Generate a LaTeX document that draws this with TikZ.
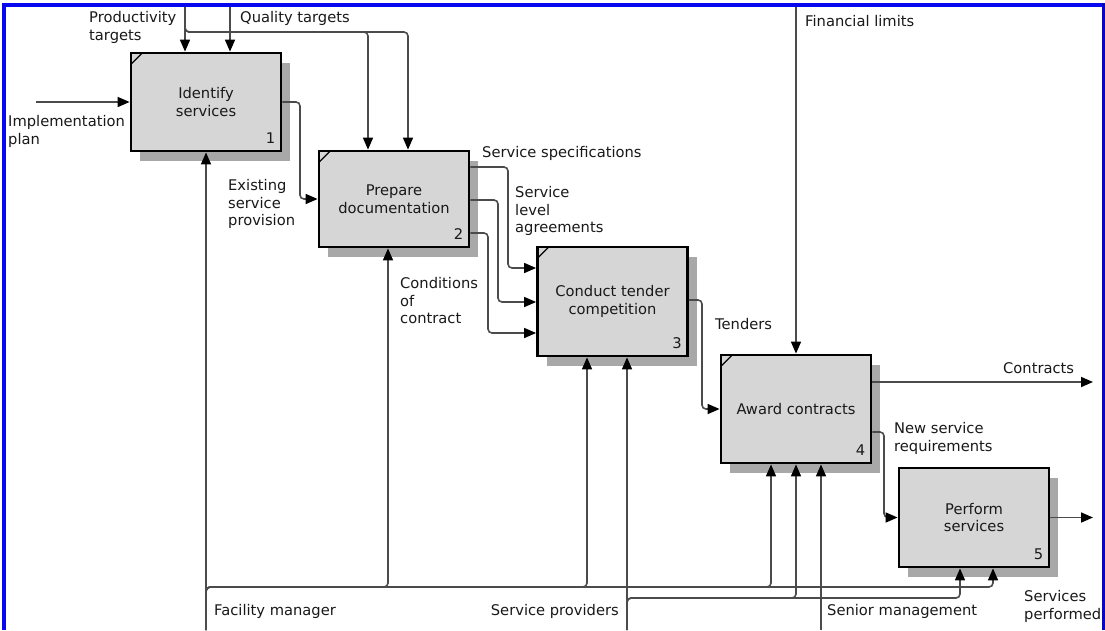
\documentclass[tikz,border=0pt]{standalone}
\usepackage{fontspec}
\setmainfont{DejaVu Sans}
\usetikzlibrary{arrows.meta,calc,shadows}

\definecolor{framebl}{RGB}{8,8,240}
\definecolor{boxfill}{RGB}{214,214,214}
\definecolor{shadowc}{RGB}{168,168,168}
\definecolor{wire}{RGB}{75,75,75}
\definecolor{ink}{RGB}{25,25,25}

\begin{document}
\begin{tikzpicture}[x=1pt,y=-1pt,
  font=\fontsize{14.7}{17.8}\selectfont,
  act/.style={draw=black, line width=2.8pt, fill=boxfill, minimum width=150pt,
    inner sep=0pt, align=center, text=ink,
    drop shadow={shadow xshift=9pt, shadow yshift=-10pt, fill=shadowc, opacity=1}},
  num/.style={anchor=base east, inner sep=0pt, text=ink},
  corner/.style={draw=black, line width=1.3pt},
  flow/.style={draw=wire, line width=1.6pt, rounded corners=4pt,
    -{Triangle[length=12pt,width=10pt,color=black]}},
  lbl/.style={anchor=north west, inner sep=0pt, align=left, text=ink},
  lblr/.style={anchor=north east, inner sep=0pt, align=right, text=ink}
]
% canvas and frame
\fill[white] (0,0) rectangle (1105,630);
\useasboundingbox (0,0) rectangle (1105,630);
\fill[framebl] (2,3) rectangle (6,630);
\fill[framebl] (2,3) rectangle (1104.5,7);
\fill[framebl!80!black] (1102,3) rectangle (1104.5,630);

% activity boxes
\node[act, minimum height=98pt]  (b1) at (206,102)   {Identify\\services};
\node[act, minimum height=96pt]  (b2) at (394,199)   {Prepare\\documentation};
\node[act, minimum height=109pt] (b3) at (612.5,301.5) {Conduct tender\\competition};
\node[act, minimum height=108pt] (b4) at (796,409)   {Award contracts};
\node[act, minimum height=99pt]  (b5) at (974,517.5) {Perform\\services};

\node[num] at ($(b1.south east)+(-7,-9)$) {1};
\node[num] at ($(b2.south east)+(-7,-9)$) {2};
\node[num] at ($(b3.south east)+(-7,-9)$) {3};
\node[num] at ($(b4.south east)+(-7,-9)$) {4};
\node[num] at ($(b5.south east)+(-7,-9)$) {5};

\foreach \b in {b1,b2,b3,b4}
  \draw[corner] ($(\b.north west)+(2,12)$) -- ($(\b.north west)+(12,2)$);

% free ends of the external arrows
\coordinate (ip)  at (36,102);
\coordinate (pt)  at (185,7);
\coordinate (qt)  at (230,7);
\coordinate (fl)  at (796,7);
\coordinate (ct)  at (1093,382);
\coordinate (spf) at (1093,517.5);
\coordinate (fm)  at (206,630);
\coordinate (spv) at (627,630);
\coordinate (sm)  at (821,630);

% inputs and controls
\draw[flow] (ip) -- (b1.west);
\draw[flow] (pt) -- (pt |- b1.north);
\draw[flow] (qt) -- (qt |- b1.north);
\draw[flow] (pt) |- (368,32) -- (368,0 |- b2.north);
\draw[flow] (pt) |- (408,32) -- (408,0 |- b2.north);
\draw[flow] (fl) -- (b4.north);

% flows between activities
\draw[flow] (b1.east) -- (300,102) -- (300,199) -- (b2.west);
\draw[flow] (b2.east |- 0,167) -- (508,167) -- (508,268) -- (b3.west |- 0,268);
\draw[flow] (b2.east |- 0,200) -- (498,200) -- (498,302) -- (b3.west |- 0,302);
\draw[flow] (b2.east |- 0,233) -- (488,233) -- (488,333) -- (b3.west |- 0,333);
\draw[flow] (b3.east |- 0,300) -- (702,300) -- (702,409) -- (b4.west);
\draw[flow] (b4.east |- 0,382) -- (ct);
\draw[flow] (b4.east |- 0,432) -- (884,432) -- (884,517.5) -- (b5.west);
\draw[flow] (b5.east) -- (spf);

% mechanisms
\draw[flow] (fm) -- (b1.south);
\draw[flow] (fm) |- (388,587) -- (388,0 |- b2.south);
\draw[flow] (fm) |- (587,587) -- (587,0 |- b3.south);
\draw[flow] (fm) |- (771,587) -- (771,0 |- b4.south);
\draw[flow] (fm) |- (993,587) -- (993,0 |- b5.south);
\draw[flow] (spv) -- (spv |- b3.south);
\draw[flow] (spv) |- (796,598) -- (796,0 |- b4.south);
\draw[flow] (spv) |- (960,598) -- (960,0 |- b5.south);
\draw[flow] (sm) -- (sm |- b4.south);

% labels
\node[lbl] at (8,115)    {Implementation\\plan};
\node[lbl] at (89,11)    {Productivity\\targets};
\node[lbl] at (240,11)   {Quality targets};
\node[lbl] at (805,15)   {Financial limits};
\node[lbl] at (228,179)  {Existing\\service\\provision};
\node[lbl] at (482,146)  {Service specifications};
\node[lbl] at (515,186)  {Service\\level\\agreements};
\node[lbl] at (400,277)  {Conditions\\of\\contract};
\node[lbl] at (715,318)  {Tenders};
\node[lbl] at (1003,362) {Contracts};
\node[lbl] at (894,422)  {New service\\requirements};
\node[lbl] at (1024,590) {Services\\performed};
\node[lbl] at (214,604)  {Facility manager};
\node[lblr] at (619,604) {Service providers};
\node[lbl] at (827,604)  {Senior management};
\end{tikzpicture}
\end{document}
